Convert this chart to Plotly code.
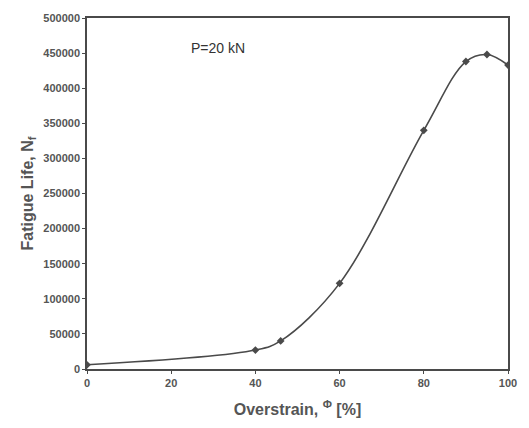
import plotly.graph_objects as go

overstrain = [0, 40, 46, 60, 80, 90, 95, 100]
fatigue_life = [6000, 27000, 40000, 122000, 340000, 438000, 448000, 433000]
x_ticks = [0, 20, 40, 60, 80, 100]
y_ticks = [0, 50000, 100000, 150000, 200000, 250000, 300000, 350000, 400000, 450000, 500000]

grey = "#4a4a4a"
fig = go.Figure()
fig.add_trace(go.Scatter(
    x=overstrain, y=fatigue_life, mode="lines+markers",
    line=dict(color=grey, width=1.6, shape="spline", smoothing=1.0),
    marker=dict(symbol="diamond", size=6, color=grey),
    showlegend=False,
))
fig.add_annotation(x=31, y=457000, text="P=20 kN", showarrow=False,
                   font=dict(family="Liberation Sans, Arial", size=14, color="#333"))
fig.update_layout(
    width=529, height=428,
    margin=dict(l=87, r=13, t=12, b=58),
    paper_bgcolor="white", plot_bgcolor="white",
    font=dict(family="Liberation Sans, Arial", color="#555"),
)
fig.update_xaxes(
    range=[0, 100], tickvals=x_ticks, ticks="outside", ticklen=3, tickcolor=grey,
    showline=True, linecolor=grey, linewidth=1.5, mirror=True, showgrid=False, zeroline=False,
    tickfont=dict(size=11, color="#555", family="Liberation Sans, Arial", weight="bold"),
    title=dict(text="<b>Overstrain, <sup>Φ</sup> [%]</b>", font=dict(size=16, color="#555"), standoff=16),
)
fig.update_yaxes(
    range=[0, 500000], tickvals=y_ticks, ticks="outside", ticklen=3, tickcolor=grey,
    showline=True, linecolor=grey, linewidth=1.5, mirror=True, showgrid=False, zeroline=False,
    tickfont=dict(size=11, color="#555", family="Liberation Sans, Arial", weight="bold"),
    tickformat="d",
    title=dict(text="<b>Fatigue Life, N<sub>f</sub></b>", font=dict(size=16, color="#555"), standoff=6),
)
fig.write_html("out.html")
